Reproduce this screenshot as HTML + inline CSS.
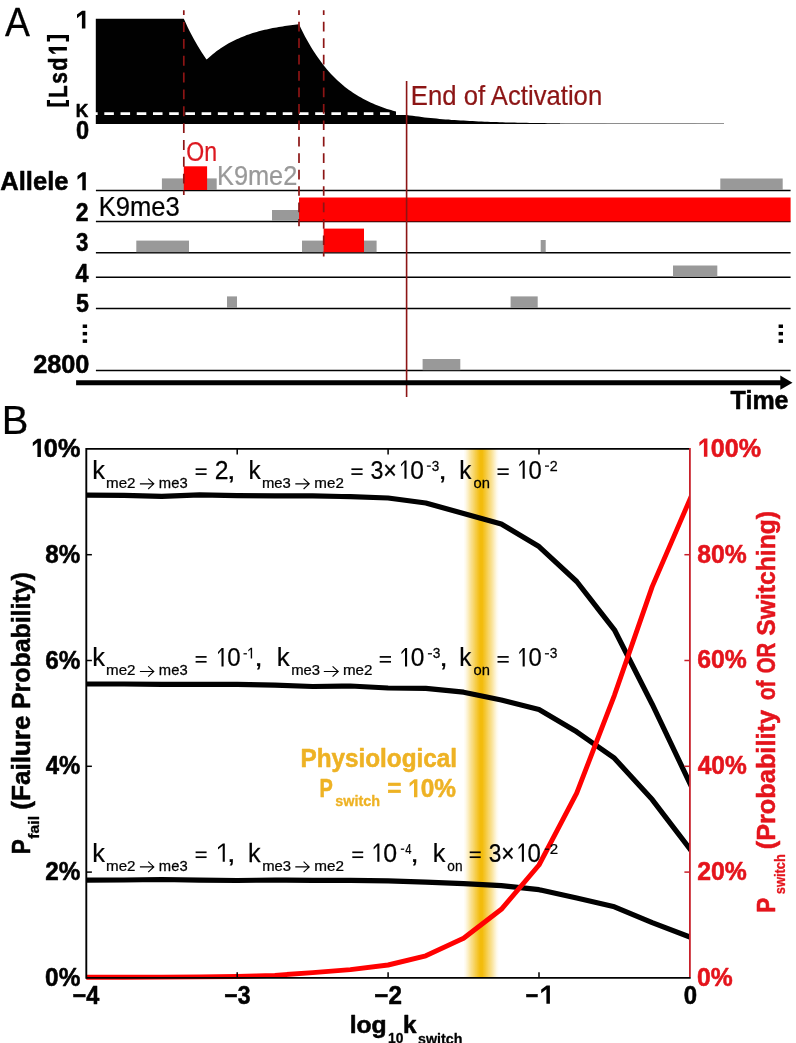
<!DOCTYPE html>
<html><head><meta charset="utf-8"><title>Figure</title>
<style>html,body{margin:0;padding:0;background:#fff;}svg{display:block;}text{font-family:"Liberation Sans",sans-serif;}</style>
</head><body>
<svg width="796" height="1043" viewBox="0 0 796 1043">
<defs><linearGradient id="gb" x1="0" x2="1" y1="0" y2="0"><stop offset="0" stop-color="#f3bc0c" stop-opacity="0"/><stop offset="0.06" stop-color="#f3bc0c" stop-opacity="0.08"/><stop offset="0.12" stop-color="#f3bc0c" stop-opacity="0.22"/><stop offset="0.2" stop-color="#f3bc0c" stop-opacity="0.42"/><stop offset="0.3" stop-color="#f3bc0c" stop-opacity="0.64"/><stop offset="0.4" stop-color="#f3bc0c" stop-opacity="0.86"/><stop offset="0.47" stop-color="#f3bc0c" stop-opacity="1"/><stop offset="0.53" stop-color="#f3bc0c" stop-opacity="1"/><stop offset="0.6" stop-color="#f3bc0c" stop-opacity="0.86"/><stop offset="0.7" stop-color="#f3bc0c" stop-opacity="0.64"/><stop offset="0.8" stop-color="#f3bc0c" stop-opacity="0.42"/><stop offset="0.88" stop-color="#f3bc0c" stop-opacity="0.22"/><stop offset="0.94" stop-color="#f3bc0c" stop-opacity="0.08"/><stop offset="1" stop-color="#f3bc0c" stop-opacity="0"/></linearGradient></defs>
<rect width="796" height="1043" fill="#fff"/>
<g opacity="0.999">
<text transform="translate(4.93,36.00) scale(0.9274,1)" font-size="40.3" fill="#000" stroke="#000" stroke-width="0.25" stroke-linejoin="round">A</text>
<path d="M95.8,123.9 L95.8,18.7 L183.8,18.7 L183.8,18.7 L185.8,23.1 L187.8,27.4 L189.8,31.4 L191.8,35.3 L193.8,39.1 L195.8,42.6 L197.8,46.0 L199.8,49.3 L201.8,52.5 L203.8,55.5 L205.8,58.4 L206.7,59.6 L206.7,59.6 L208.7,57.8 L210.7,56.0 L212.7,54.3 L214.7,52.7 L216.7,51.1 L218.7,49.7 L220.7,48.3 L222.7,47.0 L224.7,45.7 L226.7,44.5 L228.7,43.3 L230.7,42.2 L232.7,41.2 L234.7,40.2 L236.7,39.3 L238.7,38.4 L240.7,37.5 L242.7,36.7 L244.7,35.9 L246.7,35.1 L248.7,34.4 L250.7,33.8 L252.7,33.1 L254.7,32.5 L256.7,31.9 L258.7,31.3 L260.7,30.8 L262.7,30.3 L264.7,29.8 L266.7,29.4 L268.7,28.9 L270.7,28.5 L272.7,28.1 L274.7,27.7 L276.7,27.4 L278.7,27.0 L280.7,26.7 L282.7,26.4 L284.7,26.1 L286.7,25.8 L288.7,25.5 L290.7,25.3 L292.7,25.0 L294.7,24.8 L296.7,24.6 L298.7,24.3 L299.0,24.3 L299.0,24.3 L301.0,28.5 L303.0,32.5 L305.0,36.4 L307.0,40.0 L309.0,43.6 L311.0,47.0 L313.0,50.2 L315.0,53.3 L317.0,56.3 L319.0,59.1 L321.0,61.8 L323.0,64.5 L325.0,67.0 L327.0,69.4 L329.0,71.7 L331.0,73.9 L333.0,76.0 L335.0,78.0 L337.0,79.9 L339.0,81.8 L341.0,83.5 L343.0,85.2 L345.0,86.9 L347.0,88.4 L349.0,89.9 L351.0,91.3 L353.0,92.7 L355.0,94.0 L357.0,95.3 L359.0,96.5 L361.0,97.6 L363.0,98.8 L365.0,99.8 L367.0,100.8 L369.0,101.8 L371.0,102.7 L373.0,103.6 L375.0,104.5 L377.0,105.3 L379.0,106.1 L381.0,106.8 L383.0,107.5 L385.0,108.2 L387.0,108.9 L389.0,109.5 L391.0,110.1 L393.0,110.7 L395.0,111.3 L396.0,111.5 L396.0,114.9 L406.6,114.9 L406.6,114.9 L409.6,115.4 L412.6,115.8 L415.6,116.2 L418.6,116.6 L421.6,117.0 L424.6,117.4 L427.6,117.7 L430.6,118.0 L433.6,118.3 L436.6,118.6 L439.6,118.9 L442.6,119.2 L445.6,119.4 L448.6,119.6 L451.6,119.9 L454.6,120.1 L457.6,120.3 L460.6,120.5 L463.6,120.6 L466.6,120.8 L469.6,121.0 L472.6,121.1 L475.6,121.3 L478.6,121.4 L481.6,121.5 L484.6,121.7 L487.6,121.8 L490.6,121.9 L493.6,122.0 L496.6,122.1 L499.6,122.2 L502.6,122.3 L505.6,122.4 L508.6,122.4 L511.6,122.5 L514.6,122.6 L517.6,122.7 L520.6,122.7 L523.6,122.8 L526.6,122.8 L529.6,122.9 L532.6,123.0 L535.6,123.0 L538.6,123.0 L541.6,123.1 L544.6,123.1 L547.6,123.2 L550.6,123.2 L553.6,123.2 L556.6,123.3 L559.6,123.3 L562.6,123.3 L565.6,123.4 L568.6,123.4 L571.6,123.4 L574.6,123.5 L577.6,123.5 L580.6,123.5 L583.6,123.5 L586.6,123.5 L589.6,123.6 L592.6,123.6 L595.6,123.6 L598.6,123.6 L601.6,123.6 L604.6,123.6 L607.6,123.7 L610.6,123.7 L613.6,123.7 L616.6,123.7 L619.6,123.7 L622.6,123.7 L625.6,123.7 L628.6,123.7 L631.6,123.7 L634.6,123.7 L637.6,123.8 L640.6,123.8 L643.6,123.8 L646.6,123.8 L649.6,123.8 L652.6,123.8 L655.6,123.8 L658.6,123.8 L661.6,123.8 L664.6,123.8 L667.6,123.8 L670.6,123.8 L673.6,123.8 L676.6,123.8 L679.6,123.8 L682.6,123.8 L685.6,123.8 L688.6,123.8 L691.6,123.8 L694.6,123.8 L697.6,123.9 L700.0,123.9 Z" fill="#000"/>
<line x1="560.0" y1="123.5" x2="724.0" y2="123.5" stroke="#888" stroke-width="0.9"/>
<line x1="88.1" y1="113.6" x2="392.0" y2="113.6" stroke="#fff" stroke-width="2.9" stroke-dasharray="9.55 6.67"/>
<path d="M85.40,10.70 L82.18,10.70 L77.00,14.46 L77.00,18.24 L81.90,14.40 L81.90,28.60 L85.40,28.60 Z" fill="#000"/>
<text transform="translate(75.73,117.10) scale(0.9230,1)" font-size="18.8" font-weight="bold" fill="#000" stroke="#000" stroke-width="0.55" stroke-linejoin="round">K</text>
<text transform="translate(75.92,139.00) scale(0.9416,1)" font-size="25" font-weight="bold" fill="#000" stroke="#000" stroke-width="0.55" stroke-linejoin="round">0</text>
<text transform="translate(66.90,96.80) rotate(-90) translate(-1.14,0) scale(0.7889,1)" font-size="26.5" font-weight="bold" fill="#000" stroke="#000" stroke-width="0.55" stroke-linejoin="round">L</text>
<text transform="translate(66.90,83.30) rotate(-90) translate(-0.51,0) scale(0.7837,1)" font-size="26.5" font-weight="bold" fill="#000" stroke="#000" stroke-width="0.55" stroke-linejoin="round">s</text>
<text transform="translate(66.90,70.00) rotate(-90) translate(-0.65,0) scale(0.8345,1)" font-size="26.2" font-weight="bold" fill="#000" stroke="#000" stroke-width="0.55" stroke-linejoin="round">d</text>
<g transform="translate(66.9,106.6) rotate(-90)">
<path d="M59.60,-18.30 L56.38,-18.30 L52.80,-14.46 L52.80,-10.68 L56.10,-14.60 L56.10,0.00 L59.60,0.00 Z" fill="#000"/>
<path d="M6.5,-20 L0,-20 L0,2.1 L6.5,2.1 L6.5,-1 L3.3,-1 L3.3,-16.9 L6.5,-16.9 Z" fill="#000"/>
<path d="M65.1,-20 L71.6,-20 L71.6,2.1 L65.1,2.1 L65.1,-1 L68.3,-1 L68.3,-16.9 L65.1,-16.9 Z" fill="#000"/>
</g>
<line x1="95.9" y1="190.4" x2="790.6" y2="190.4" stroke="#000" stroke-width="1.5"/>
<line x1="95.9" y1="221.4" x2="790.6" y2="221.4" stroke="#000" stroke-width="1.5"/>
<line x1="95.9" y1="252.7" x2="790.6" y2="252.7" stroke="#000" stroke-width="1.5"/>
<line x1="95.9" y1="277.3" x2="790.6" y2="277.3" stroke="#000" stroke-width="1.5"/>
<line x1="95.9" y1="308.6" x2="790.6" y2="308.6" stroke="#000" stroke-width="1.5"/>
<line x1="95.9" y1="370.6" x2="790.6" y2="370.6" stroke="#000" stroke-width="1.5"/>
<rect x="161.9" y="178.4" width="54.8" height="11.6" fill="#999999"/>
<rect x="183.8" y="166.3" width="23.3" height="23.7" fill="#ff0000"/>
<rect x="720.3" y="178.5" width="62.4" height="11.5" fill="#999999"/>
<rect x="272.0" y="210.0" width="27.0" height="10.8" fill="#999999"/>
<rect x="299.0" y="197.5" width="491.6" height="23.9" fill="#ff0000"/>
<rect x="136.3" y="240.6" width="52.7" height="11.6" fill="#999999"/>
<rect x="302.0" y="240.6" width="74.6" height="11.6" fill="#999999"/>
<rect x="323.6" y="228.6" width="40.4" height="23.6" fill="#ff0000"/>
<rect x="540.7" y="240.0" width="5.0" height="12.2" fill="#999999"/>
<rect x="673.0" y="265.5" width="44.3" height="11.3" fill="#999999"/>
<rect x="227.0" y="296.4" width="10.0" height="11.6" fill="#999999"/>
<rect x="510.6" y="296.4" width="27.1" height="11.6" fill="#999999"/>
<rect x="422.6" y="359.0" width="37.7" height="11.2" fill="#999999"/>
<line x1="183.8" y1="10.2" x2="183.8" y2="194.9" stroke="#8c1515" stroke-width="1.7" stroke-dasharray="9.9 6.95" stroke-dashoffset="5.0"/>
<line x1="299.0" y1="10.2" x2="299.0" y2="226.3" stroke="#8c1515" stroke-width="1.7" stroke-dasharray="9.7 6.73" stroke-dashoffset="4.8"/>
<line x1="323.7" y1="10.2" x2="323.7" y2="256.5" stroke="#8c1515" stroke-width="1.7" stroke-dasharray="9.7 6.73" stroke-dashoffset="4.8"/>
<line x1="406.6" y1="81.0" x2="406.6" y2="397.0" stroke="#8c1515" stroke-width="1.6"/>
<text transform="translate(410.86,104.90) scale(0.9515,1)" font-size="27" fill="#8c1515" stroke="#8c1515" stroke-width="0.25" stroke-linejoin="round">End of Activation</text>
<text transform="translate(186.27,160.70) scale(0.8428,1)" font-size="27.4" fill="#dc1820" stroke="#dc1820" stroke-width="0.25" stroke-linejoin="round">On</text>
<text transform="translate(216.99,184.70) scale(0.9323,1)" font-size="27.2" fill="#999999" stroke="#999999" stroke-width="0.25" stroke-linejoin="round">K9me2</text>
<text transform="translate(98.77,215.70) scale(0.9324,1)" font-size="27.4" fill="#000" stroke="#000" stroke-width="0.25" stroke-linejoin="round">K9me3</text>
<text transform="translate(0.23,190.20) scale(0.9842,1)" font-size="26" font-weight="bold" fill="#000" stroke="#000" stroke-width="0.55" stroke-linejoin="round">Allele</text>
<path d="M85.80,172.20 L82.58,172.20 L77.50,175.98 L77.50,179.76 L82.30,175.90 L82.30,190.20 L85.80,190.20 Z" fill="#000"/>
<text transform="translate(75.84,220.90) scale(0.8924,1)" font-size="25.7" font-weight="bold" fill="#000" stroke="#000" stroke-width="0.55" stroke-linejoin="round">2</text>
<text transform="translate(76.08,251.30) scale(0.8665,1)" font-size="25.7" font-weight="bold" fill="#000" stroke="#000" stroke-width="0.55" stroke-linejoin="round">3</text>
<text transform="translate(75.60,281.60) scale(0.9091,1)" font-size="25.7" font-weight="bold" fill="#000" stroke="#000" stroke-width="0.55" stroke-linejoin="round">4</text>
<text transform="translate(75.95,311.80) scale(0.9030,1)" font-size="25.7" font-weight="bold" fill="#000" stroke="#000" stroke-width="0.55" stroke-linejoin="round">5</text>
<text transform="translate(33.19,372.90) scale(0.9838,1)" font-size="25.7" font-weight="bold" fill="#000" stroke="#000" stroke-width="0.55" stroke-linejoin="round">2800</text>
<rect x="82.7" y="324.5" width="4.4" height="3.5" fill="#000"/>
<rect x="82.7" y="331.9" width="4.4" height="3.5" fill="#000"/>
<rect x="82.7" y="339.4" width="4.4" height="3.5" fill="#000"/>
<rect x="778.6" y="324.5" width="4.4" height="3.5" fill="#000"/>
<rect x="778.6" y="331.9" width="4.4" height="3.5" fill="#000"/>
<rect x="778.6" y="339.4" width="4.4" height="3.5" fill="#000"/>
<line x1="76.1" y1="382.7" x2="782.0" y2="382.7" stroke="#000" stroke-width="4.9"/>
<path d="M780.3,375.6 L792.5,382.7 L780.3,389.7 Z" fill="#000"/>
<text transform="translate(730.61,409.20) scale(0.9619,1)" font-size="26" font-weight="bold" fill="#000" stroke="#000" stroke-width="0.55" stroke-linejoin="round">Time</text>
<text transform="translate(1.73,433.70) scale(0.9855,1)" font-size="40.5" fill="#000" stroke="#000" stroke-width="0.25" stroke-linejoin="round">B</text>
<rect x="463.4" y="448.9" width="35.6" height="528.5" fill="url(#gb)"/>
<clipPath id="cp"><rect x="86.3" y="448.9" width="603.6" height="532.0"/></clipPath>
<polyline clip-path="url(#cp)" points="82.3,495.1 86.3,495.1 124.0,495.3 161.8,496.3 199.5,494.9 237.2,495.6 274.9,495.9 312.7,495.9 350.4,496.7 388.1,498.0 425.8,503.0 463.6,513.4 501.3,524.0 539.0,546.6 576.7,581.5 614.4,629.8 652.2,704.2 689.9,783.3 693.9,791.7" fill="none" stroke="#000" stroke-width="5.2" stroke-linejoin="round" stroke-linecap="butt"/>
<polyline clip-path="url(#cp)" points="82.3,684.0 86.3,684.0 124.0,684.0 161.8,684.3 199.5,684.3 237.2,684.3 274.9,685.2 312.7,686.5 350.4,686.0 388.1,688.0 425.8,688.4 463.6,692.2 501.3,700.0 539.0,709.5 576.7,731.8 614.4,758.2 652.2,799.6 689.9,849.0 693.9,854.2" fill="none" stroke="#000" stroke-width="5.2" stroke-linejoin="round" stroke-linecap="butt"/>
<polyline clip-path="url(#cp)" points="82.3,880.2 86.3,880.2 124.0,880.0 161.8,879.5 199.5,880.2 237.2,880.5 274.9,880.0 312.7,880.4 350.4,880.4 388.1,880.9 425.8,882.2 463.6,883.7 501.3,885.6 539.0,889.7 576.7,898.0 614.4,906.8 652.2,922.6 689.9,937.0 693.9,938.5" fill="none" stroke="#000" stroke-width="5.2" stroke-linejoin="round" stroke-linecap="butt"/>
<polyline clip-path="url(#cp)" points="82.3,977.3 86.3,977.3 124.0,977.2 161.8,977.1 199.5,976.9 237.2,976.5 274.9,975.4 312.7,972.6 350.4,969.6 388.1,965.0 425.8,955.8 463.6,938.2 501.3,909.3 539.0,865.0 576.7,793.1 614.4,695.3 652.2,586.6 689.9,499.4 693.9,490.2" fill="none" stroke="#ff0000" stroke-width="4.9" stroke-linejoin="round" stroke-linecap="butt"/>
<line x1="86.3" y1="448.0" x2="86.3" y2="978.8" stroke="#000" stroke-width="1.9"/>
<line x1="86.3" y1="448.9" x2="689.9" y2="448.9" stroke="#000" stroke-width="1.8"/>
<line x1="86.3" y1="977.9" x2="690.7" y2="977.9" stroke="#000" stroke-width="1.8"/>
<line x1="689.9" y1="448.0" x2="689.9" y2="977.0" stroke="#c8202a" stroke-width="1.8"/>
<line x1="86.3" y1="872.1" x2="91.9" y2="872.1" stroke="#000" stroke-width="1.5"/>
<line x1="86.3" y1="766.3" x2="91.9" y2="766.3" stroke="#000" stroke-width="1.5"/>
<line x1="86.3" y1="660.5" x2="91.9" y2="660.5" stroke="#000" stroke-width="1.5"/>
<line x1="86.3" y1="554.7" x2="91.9" y2="554.7" stroke="#000" stroke-width="1.5"/>
<line x1="684.4" y1="872.1" x2="689.9" y2="872.1" stroke="#c8202a" stroke-width="1.5"/>
<line x1="684.4" y1="766.3" x2="689.9" y2="766.3" stroke="#c8202a" stroke-width="1.5"/>
<line x1="684.4" y1="660.5" x2="689.9" y2="660.5" stroke="#c8202a" stroke-width="1.5"/>
<line x1="684.4" y1="554.7" x2="689.9" y2="554.7" stroke="#c8202a" stroke-width="1.5"/>
<line x1="237.2" y1="448.9" x2="237.2" y2="454.5" stroke="#000" stroke-width="1.5"/>
<line x1="237.2" y1="977.9" x2="237.2" y2="972.3" stroke="#000" stroke-width="1.5"/>
<line x1="388.1" y1="448.9" x2="388.1" y2="454.5" stroke="#000" stroke-width="1.5"/>
<line x1="388.1" y1="977.9" x2="388.1" y2="972.3" stroke="#000" stroke-width="1.5"/>
<line x1="539.0" y1="448.9" x2="539.0" y2="454.5" stroke="#000" stroke-width="1.5"/>
<line x1="539.0" y1="977.9" x2="539.0" y2="972.3" stroke="#000" stroke-width="1.5"/>
<path d="M40.90,438.70 L37.68,438.70 L32.80,442.54 L32.80,446.32 L37.40,442.40 L37.40,457.00 L40.90,457.00 Z" fill="#000"/>
<text transform="translate(43.86,457.00) scale(0.9867,1)" font-size="25.6" font-weight="bold" fill="#000" stroke="#000" stroke-width="0.55" stroke-linejoin="round">0%</text>
<text transform="translate(45.33,562.80) scale(0.9465,1)" font-size="25.6" font-weight="bold" fill="#000" stroke="#000" stroke-width="0.55" stroke-linejoin="round">8%</text>
<text transform="translate(45.21,668.60) scale(0.9498,1)" font-size="25.6" font-weight="bold" fill="#000" stroke="#000" stroke-width="0.55" stroke-linejoin="round">6%</text>
<text transform="translate(45.70,774.40) scale(0.9365,1)" font-size="25.6" font-weight="bold" fill="#000" stroke="#000" stroke-width="0.55" stroke-linejoin="round">4%</text>
<text transform="translate(45.21,880.20) scale(0.9498,1)" font-size="25.6" font-weight="bold" fill="#000" stroke="#000" stroke-width="0.55" stroke-linejoin="round">2%</text>
<text transform="translate(45.09,986.00) scale(0.9532,1)" font-size="25.6" font-weight="bold" fill="#000" stroke="#000" stroke-width="0.55" stroke-linejoin="round">0%</text>
<path d="M707.40,438.40 L704.18,438.40 L699.40,442.24 L699.40,446.02 L703.90,442.10 L703.90,456.70 L707.40,456.70 Z" fill="#e4141c"/>
<text transform="translate(710.86,456.70) scale(0.9823,1)" font-size="25.6" font-weight="bold" fill="#e4141c" stroke="#e4141c" stroke-width="0.55" stroke-linejoin="round">00%</text>
<text transform="translate(697.32,562.50) scale(0.9654,1)" font-size="25.6" font-weight="bold" fill="#e4141c" stroke="#e4141c" stroke-width="0.55" stroke-linejoin="round">80%</text>
<text transform="translate(697.20,668.30) scale(0.9679,1)" font-size="25.6" font-weight="bold" fill="#e4141c" stroke="#e4141c" stroke-width="0.55" stroke-linejoin="round">60%</text>
<text transform="translate(697.70,774.10) scale(0.9581,1)" font-size="25.6" font-weight="bold" fill="#e4141c" stroke="#e4141c" stroke-width="0.55" stroke-linejoin="round">40%</text>
<text transform="translate(697.20,879.90) scale(0.9679,1)" font-size="25.6" font-weight="bold" fill="#e4141c" stroke="#e4141c" stroke-width="0.55" stroke-linejoin="round">20%</text>
<text transform="translate(697.08,985.70) scale(0.9644,1)" font-size="25.6" font-weight="bold" fill="#e4141c" stroke="#e4141c" stroke-width="0.55" stroke-linejoin="round">0%</text>
<text transform="translate(72.62,1003.80) scale(0.9273,1)" font-size="25.3" font-weight="bold" fill="#000" stroke="#000" stroke-width="0.55" stroke-linejoin="round">&#8722;4</text>
<text transform="translate(224.33,1003.80) scale(0.9093,1)" font-size="25.3" font-weight="bold" fill="#000" stroke="#000" stroke-width="0.55" stroke-linejoin="round">&#8722;3</text>
<text transform="translate(374.29,1003.80) scale(0.9573,1)" font-size="25.3" font-weight="bold" fill="#000" stroke="#000" stroke-width="0.55" stroke-linejoin="round">&#8722;2</text>
<text transform="translate(525.46,1003.80) scale(0.8704,1)" font-size="25.3" font-weight="bold" fill="#000" stroke="#000" stroke-width="0.55" stroke-linejoin="round">&#8722;</text>
<path d="M549.90,985.60 L546.68,985.60 L541.20,989.42 L541.20,993.20 L546.40,989.30 L546.40,1003.80 L549.90,1003.80 Z" fill="#000"/>
<text transform="translate(683.80,1003.60) scale(0.9469,1)" font-size="25.3" font-weight="bold" fill="#000" stroke="#000" stroke-width="0.55" stroke-linejoin="round">0</text>
<text transform="translate(349.65,1033.10) scale(1.0214,1)" font-size="24.2" font-weight="bold" fill="#000" stroke="#000" stroke-width="0.55" stroke-linejoin="round">log</text>
<text transform="translate(387.94,1043.30) scale(0.9421,1)" font-size="14.7" font-weight="bold" fill="#000" stroke="#000" stroke-width="0.3" stroke-linejoin="round">10</text>
<text transform="translate(403.08,1033.10) scale(1.0011,1)" font-size="24.2" font-weight="bold" fill="#000" stroke="#000" stroke-width="0.55" stroke-linejoin="round">k</text>
<text transform="translate(418.05,1043.50) scale(0.9704,1)" font-size="14.7" font-weight="bold" fill="#000" stroke="#000" stroke-width="0.3" stroke-linejoin="round">switch</text>
<text transform="translate(29.90,853.10) rotate(-90) translate(-1.22,0) scale(0.8432,1)" font-size="26.5" font-weight="bold" fill="#000" stroke="#000" stroke-width="0.55" stroke-linejoin="round">P</text>
<text transform="translate(39.20,838.60) rotate(-90) translate(-0.08,0) scale(1.0270,1)" font-size="15.3" font-weight="bold" fill="#000" stroke="#000" stroke-width="0.3" stroke-linejoin="round">fail</text>
<text transform="translate(29.90,808.60) rotate(-90) translate(-1.03,0) scale(0.9834,1)" font-size="26.5" font-weight="bold" fill="#000" stroke="#000" stroke-width="0.55" stroke-linejoin="round">(Failure</text>
<text transform="translate(29.90,707.60) rotate(-90) translate(-1.36,0) scale(0.9387,1)" font-size="26.5" font-weight="bold" fill="#000" stroke="#000" stroke-width="0.55" stroke-linejoin="round">Probability)</text>
<text transform="translate(774.90,911.60) rotate(-90) translate(-1.23,0) scale(0.8496,1)" font-size="26.5" font-weight="bold" fill="#e4141c" stroke="#e4141c" stroke-width="0.55" stroke-linejoin="round">P</text>
<text transform="translate(784.50,893.90) rotate(-90) translate(-0.32,0) scale(0.8740,1)" font-size="14.7" font-weight="bold" fill="#e4141c" stroke="#e4141c" stroke-width="0.3" stroke-linejoin="round">switch</text>
<text transform="translate(774.90,848.30) rotate(-90) translate(-1.00,0) scale(0.9562,1)" font-size="26.5" font-weight="bold" fill="#e4141c" stroke="#e4141c" stroke-width="0.55" stroke-linejoin="round">(Probability</text>
<text transform="translate(774.90,699.50) rotate(-90) translate(-0.61,0) scale(0.7826,1)" font-size="26.5" font-weight="bold" fill="#e4141c" stroke="#e4141c" stroke-width="0.55" stroke-linejoin="round">of</text>
<text transform="translate(774.90,672.60) rotate(-90) translate(-0.60,0) scale(0.7672,1)" font-size="26.5" font-weight="bold" fill="#e4141c" stroke="#e4141c" stroke-width="0.55" stroke-linejoin="round">OR</text>
<text transform="translate(774.90,635.20) rotate(-90) translate(-0.48,0) scale(0.9314,1)" font-size="26.5" font-weight="bold" fill="#e4141c" stroke="#e4141c" stroke-width="0.55" stroke-linejoin="round">Switching)</text>
<text transform="translate(300.48,766.70) scale(0.9526,1)" font-size="25.5" font-weight="bold" fill="#eeb224" stroke="#eeb224" stroke-width="0.55" stroke-linejoin="round">Physiological</text>
<text transform="translate(319.52,797.20) scale(0.7735,1)" font-size="25.8" font-weight="bold" fill="#eeb224" stroke="#eeb224" stroke-width="0.55" stroke-linejoin="round">P</text>
<text transform="translate(335.24,805.80) scale(0.9816,1)" font-size="14.7" font-weight="bold" fill="#eeb224" stroke="#eeb224" stroke-width="0.3" stroke-linejoin="round">switch</text>
<text transform="translate(387.19,797.20) scale(0.9533,1)" font-size="25.5" font-weight="bold" fill="#eeb224" stroke="#eeb224" stroke-width="0.55" stroke-linejoin="round">=</text>
<path d="M417.40,779.20 L414.27,779.20 L409.60,782.98 L409.60,786.65 L414.00,782.80 L414.00,797.20 L417.40,797.20 Z" fill="#eeb224"/>
<text transform="translate(420.69,797.20) scale(0.9569,1)" font-size="25.5" font-weight="bold" fill="#eeb224" stroke="#eeb224" stroke-width="0.55" stroke-linejoin="round">0%</text>
<text transform="translate(92.26,478.70) scale(1.0168,1)" font-size="25.2" fill="#000" stroke="#000" stroke-width="0.25" stroke-linejoin="round">k</text>
<text transform="translate(106.05,487.60) scale(1.0672,1)" font-size="14.2" fill="#000" stroke="#000" stroke-width="0.25" stroke-linejoin="round">me2</text>
<path d="M139.9,483.8 L153.8,483.8 M148.2,478.6 L153.8,483.8 L148.2,489.0" fill="none" stroke="#000" stroke-width="1.15" stroke-linecap="butt" stroke-linejoin="miter"/>
<text transform="translate(158.87,487.60) scale(1.0415,1)" font-size="14.2" fill="#000" stroke="#000" stroke-width="0.25" stroke-linejoin="round">me3</text>
<line x1="195.6" y1="469.2" x2="206.6" y2="469.2" stroke="#000" stroke-width="1.7"/>
<line x1="195.6" y1="474.1" x2="206.6" y2="474.1" stroke="#000" stroke-width="1.7"/>
<text transform="translate(214.78,478.70) scale(0.9520,1)" font-size="26.0" fill="#000" stroke="#000" stroke-width="0.25" stroke-linejoin="round">2</text>
<text transform="translate(226.96,478.70) scale(1.1930,1)" font-size="26.0" fill="#000" stroke="#000" stroke-width="0.25" stroke-linejoin="round">,</text>
<text transform="translate(248.53,478.70) scale(0.9722,1)" font-size="25.2" fill="#000" stroke="#000" stroke-width="0.25" stroke-linejoin="round">k</text>
<text transform="translate(261.97,487.60) scale(1.0453,1)" font-size="14.2" fill="#000" stroke="#000" stroke-width="0.25" stroke-linejoin="round">me3</text>
<path d="M295.3,483.8 L309.2,483.8 M303.6,478.6 L309.2,483.8 L303.6,489.0" fill="none" stroke="#000" stroke-width="1.15" stroke-linecap="butt" stroke-linejoin="miter"/>
<text transform="translate(314.35,487.60) scale(1.0672,1)" font-size="14.2" fill="#000" stroke="#000" stroke-width="0.25" stroke-linejoin="round">me2</text>
<line x1="351.4" y1="469.2" x2="362.6" y2="469.2" stroke="#000" stroke-width="1.7"/>
<line x1="351.4" y1="474.1" x2="362.6" y2="474.1" stroke="#000" stroke-width="1.7"/>
<text transform="translate(370.38,478.70) scale(0.8950,1)" font-size="26.0" fill="#000" stroke="#000" stroke-width="0.25" stroke-linejoin="round">3&#215;</text>
<path d="M406.53,460.40 L404.60,460.40 L400.99,464.24 L400.99,466.51 L404.43,462.62 L404.43,478.70 L406.53,478.70 Z" fill="#000"/>
<text transform="translate(410.22,478.70) scale(0.9456,1)" font-size="26.0" fill="#000" stroke="#000" stroke-width="0.25" stroke-linejoin="round">0</text>
<line x1="426.9" y1="466.1" x2="430.8" y2="466.1" stroke="#000" stroke-width="1.3"/>
<text transform="translate(431.72,470.70) scale(0.8973,1)" font-size="15.0" fill="#000" stroke="#000" stroke-width="0.25" stroke-linejoin="round">3</text>
<text transform="translate(438.36,478.70) scale(1.1930,1)" font-size="26.0" fill="#000" stroke="#000" stroke-width="0.25" stroke-linejoin="round">,</text>
<text transform="translate(459.33,478.70) scale(0.9722,1)" font-size="25.2" fill="#000" stroke="#000" stroke-width="0.25" stroke-linejoin="round">k</text>
<text transform="translate(473.44,487.60) scale(1.0399,1)" font-size="14.2" fill="#000" stroke="#000" stroke-width="0.25" stroke-linejoin="round">on</text>
<line x1="497.5" y1="469.2" x2="508.7" y2="469.2" stroke="#000" stroke-width="1.7"/>
<line x1="497.5" y1="474.1" x2="508.7" y2="474.1" stroke="#000" stroke-width="1.7"/>
<path d="M524.74,460.40 L522.81,460.40 L519.24,464.24 L519.24,466.51 L522.64,462.62 L522.64,478.70 L524.74,478.70 Z" fill="#000"/>
<text transform="translate(528.41,478.70) scale(0.9167,1)" font-size="26.0" fill="#000" stroke="#000" stroke-width="0.25" stroke-linejoin="round">0</text>
<line x1="545.0" y1="466.1" x2="549.0" y2="466.1" stroke="#000" stroke-width="1.3"/>
<text transform="translate(549.75,470.70) scale(0.9541,1)" font-size="15.0" fill="#000" stroke="#000" stroke-width="0.25" stroke-linejoin="round">2</text>
<text transform="translate(92.26,666.40) scale(1.0168,1)" font-size="25.2" fill="#000" stroke="#000" stroke-width="0.25" stroke-linejoin="round">k</text>
<text transform="translate(106.05,675.30) scale(1.0672,1)" font-size="14.2" fill="#000" stroke="#000" stroke-width="0.25" stroke-linejoin="round">me2</text>
<path d="M139.9,671.5 L153.8,671.5 M148.2,666.3 L153.8,671.5 L148.2,676.7" fill="none" stroke="#000" stroke-width="1.15" stroke-linecap="butt" stroke-linejoin="miter"/>
<text transform="translate(158.87,675.30) scale(1.0415,1)" font-size="14.2" fill="#000" stroke="#000" stroke-width="0.25" stroke-linejoin="round">me3</text>
<line x1="195.6" y1="656.9" x2="206.6" y2="656.9" stroke="#000" stroke-width="1.7"/>
<line x1="195.6" y1="661.8" x2="206.6" y2="661.8" stroke="#000" stroke-width="1.7"/>
<path d="M223.59,648.10 L221.66,648.10 L218.04,651.94 L218.04,654.21 L221.49,650.32 L221.49,666.40 L223.59,666.40 Z" fill="#000"/>
<text transform="translate(227.30,666.40) scale(0.9250,1)" font-size="26.0" fill="#000" stroke="#000" stroke-width="0.25" stroke-linejoin="round">0</text>
<line x1="243.5" y1="653.8" x2="246.9" y2="653.8" stroke="#000" stroke-width="1.3"/>
<path d="M252.12,647.80 L250.83,647.80 L248.28,650.03 L248.28,651.54 L250.72,649.28 L250.72,658.40 L252.12,658.40 Z" fill="#000"/>
<text transform="translate(254.16,666.40) scale(1.1930,1)" font-size="26.0" fill="#000" stroke="#000" stroke-width="0.25" stroke-linejoin="round">,</text>
<text transform="translate(276.63,666.40) scale(1.0346,1)" font-size="25.2" fill="#000" stroke="#000" stroke-width="0.25" stroke-linejoin="round">k</text>
<text transform="translate(291.17,675.30) scale(1.0453,1)" font-size="14.2" fill="#000" stroke="#000" stroke-width="0.25" stroke-linejoin="round">me3</text>
<path d="M323.8,671.5 L338.2,671.5 M332.6,666.3 L338.2,671.5 L332.6,676.7" fill="none" stroke="#000" stroke-width="1.15" stroke-linecap="butt" stroke-linejoin="miter"/>
<text transform="translate(342.95,675.30) scale(1.0672,1)" font-size="14.2" fill="#000" stroke="#000" stroke-width="0.25" stroke-linejoin="round">me2</text>
<line x1="379.7" y1="656.9" x2="391.0" y2="656.9" stroke="#000" stroke-width="1.7"/>
<line x1="379.7" y1="661.8" x2="391.0" y2="661.8" stroke="#000" stroke-width="1.7"/>
<path d="M407.10,648.10 L405.17,648.10 L401.45,651.94 L401.45,654.21 L405.00,650.32 L405.00,666.40 L407.10,666.40 Z" fill="#000"/>
<text transform="translate(410.87,666.40) scale(0.9417,1)" font-size="26.0" fill="#000" stroke="#000" stroke-width="0.25" stroke-linejoin="round">0</text>
<line x1="427.9" y1="653.8" x2="432.0" y2="653.8" stroke="#000" stroke-width="1.3"/>
<text transform="translate(432.86,658.40) scale(0.9178,1)" font-size="15.0" fill="#000" stroke="#000" stroke-width="0.25" stroke-linejoin="round">3</text>
<text transform="translate(439.26,666.40) scale(1.1930,1)" font-size="26.0" fill="#000" stroke="#000" stroke-width="0.25" stroke-linejoin="round">,</text>
<text transform="translate(459.33,666.40) scale(0.9722,1)" font-size="25.2" fill="#000" stroke="#000" stroke-width="0.25" stroke-linejoin="round">k</text>
<text transform="translate(473.44,675.30) scale(1.0399,1)" font-size="14.2" fill="#000" stroke="#000" stroke-width="0.25" stroke-linejoin="round">on</text>
<line x1="497.5" y1="656.9" x2="508.7" y2="656.9" stroke="#000" stroke-width="1.7"/>
<line x1="497.5" y1="661.8" x2="508.7" y2="661.8" stroke="#000" stroke-width="1.7"/>
<path d="M524.74,648.10 L522.81,648.10 L519.24,651.94 L519.24,654.21 L522.64,650.32 L522.64,666.40 L524.74,666.40 Z" fill="#000"/>
<text transform="translate(528.41,666.40) scale(0.9167,1)" font-size="26.0" fill="#000" stroke="#000" stroke-width="0.25" stroke-linejoin="round">0</text>
<line x1="544.9" y1="653.8" x2="549.0" y2="653.8" stroke="#000" stroke-width="1.3"/>
<text transform="translate(549.86,658.40) scale(0.9178,1)" font-size="15.0" fill="#000" stroke="#000" stroke-width="0.25" stroke-linejoin="round">3</text>
<text transform="translate(92.26,861.80) scale(1.0168,1)" font-size="25.2" fill="#000" stroke="#000" stroke-width="0.25" stroke-linejoin="round">k</text>
<text transform="translate(106.05,870.70) scale(1.0672,1)" font-size="14.2" fill="#000" stroke="#000" stroke-width="0.25" stroke-linejoin="round">me2</text>
<path d="M139.9,866.9 L153.8,866.9 M148.2,861.7 L153.8,866.9 L148.2,872.1" fill="none" stroke="#000" stroke-width="1.15" stroke-linecap="butt" stroke-linejoin="miter"/>
<text transform="translate(158.87,870.70) scale(1.0415,1)" font-size="14.2" fill="#000" stroke="#000" stroke-width="0.25" stroke-linejoin="round">me3</text>
<line x1="195.6" y1="852.3" x2="206.6" y2="852.3" stroke="#000" stroke-width="1.7"/>
<line x1="195.6" y1="857.2" x2="206.6" y2="857.2" stroke="#000" stroke-width="1.7"/>
<path d="M224.80,843.50 L222.87,843.50 L218.00,847.34 L218.00,849.61 L222.70,845.72 L222.70,861.80 L224.80,861.80 Z" fill="#000"/>
<text transform="translate(226.96,861.80) scale(1.1930,1)" font-size="26.0" fill="#000" stroke="#000" stroke-width="0.25" stroke-linejoin="round">,</text>
<text transform="translate(248.09,861.80) scale(0.9989,1)" font-size="25.2" fill="#000" stroke="#000" stroke-width="0.25" stroke-linejoin="round">k</text>
<text transform="translate(262.17,870.70) scale(1.0453,1)" font-size="14.2" fill="#000" stroke="#000" stroke-width="0.25" stroke-linejoin="round">me3</text>
<path d="M295.3,866.9 L309.2,866.9 M303.6,861.7 L309.2,866.9 L303.6,872.1" fill="none" stroke="#000" stroke-width="1.15" stroke-linecap="butt" stroke-linejoin="miter"/>
<text transform="translate(314.34,870.70) scale(1.0749,1)" font-size="14.2" fill="#000" stroke="#000" stroke-width="0.25" stroke-linejoin="round">me2</text>
<line x1="352.3" y1="852.3" x2="363.2" y2="852.3" stroke="#000" stroke-width="1.7"/>
<line x1="352.3" y1="857.2" x2="363.2" y2="857.2" stroke="#000" stroke-width="1.7"/>
<path d="M379.41,843.50 L377.48,843.50 L373.66,847.34 L373.66,849.61 L377.31,845.72 L377.31,861.80 L379.41,861.80 Z" fill="#000"/>
<text transform="translate(383.25,861.80) scale(0.9583,1)" font-size="26.0" fill="#000" stroke="#000" stroke-width="0.25" stroke-linejoin="round">0</text>
<line x1="400.8" y1="849.2" x2="404.2" y2="849.2" stroke="#000" stroke-width="1.3"/>
<text transform="translate(405.21,853.80) scale(0.7484,1)" font-size="15.0" fill="#000" stroke="#000" stroke-width="0.25" stroke-linejoin="round">4</text>
<text transform="translate(410.36,861.80) scale(1.1930,1)" font-size="26.0" fill="#000" stroke="#000" stroke-width="0.25" stroke-linejoin="round">,</text>
<text transform="translate(432.68,861.80) scale(1.0078,1)" font-size="25.2" fill="#000" stroke="#000" stroke-width="0.25" stroke-linejoin="round">k</text>
<text transform="translate(447.27,870.70) scale(0.9641,1)" font-size="14.2" fill="#000" stroke="#000" stroke-width="0.25" stroke-linejoin="round">on</text>
<line x1="469.7" y1="852.3" x2="480.7" y2="852.3" stroke="#000" stroke-width="1.7"/>
<line x1="469.7" y1="857.2" x2="480.7" y2="857.2" stroke="#000" stroke-width="1.7"/>
<text transform="translate(488.70,861.80) scale(0.8725,1)" font-size="26.0" fill="#000" stroke="#000" stroke-width="0.25" stroke-linejoin="round">3&#215;</text>
<path d="M523.94,843.50 L522.01,843.50 L518.54,847.34 L518.54,849.61 L521.84,845.72 L521.84,861.80 L523.94,861.80 Z" fill="#000"/>
<text transform="translate(527.54,861.80) scale(0.9218,1)" font-size="26.0" fill="#000" stroke="#000" stroke-width="0.25" stroke-linejoin="round">0</text>
<line x1="544.8" y1="849.2" x2="549.1" y2="849.2" stroke="#000" stroke-width="1.3"/>
<text transform="translate(549.87,853.80) scale(1.0035,1)" font-size="15.0" fill="#000" stroke="#000" stroke-width="0.25" stroke-linejoin="round">2</text>
</g>
</svg></body></html>
